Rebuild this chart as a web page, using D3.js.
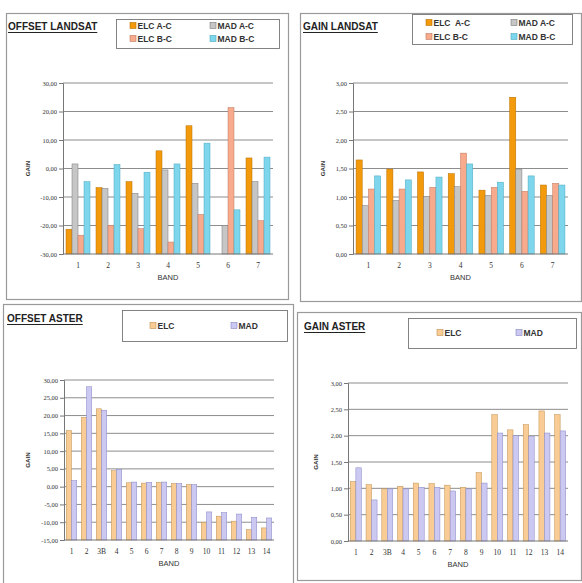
<!DOCTYPE html>
<html><head><meta charset="utf-8">
<script src="https://cdn.jsdelivr.net/npm/d3@7"></script>
<style>body{margin:0;background:#fff}svg{display:block}</style>
</head><body>
<svg id="c" width="582" height="583"></svg>
<script>
// ---------- DATA ----------
const landsatBands = ["1","2","3","4","5","6","7"];
const landsatSeries = ["ELC A-C","MAD A-C","ELC B-C","MAD B-C"];
const landsatLegendLabels = ["ELC A-C","MAD A-C","ELC B-C","MAD B-C"];
const gainLegendLabels = ["ELC  A-C","MAD A-C","ELC B-C","MAD B-C"];

const offsetLandsatElcAC = [-21.3, -6.7, -4.6, 6.2, 15.0, null, 3.7];
const offsetLandsatMadAC = [1.6, -7.0, -8.7, -0.5, -5.2, -20.0, -4.6];
const offsetLandsatElcBC = [-23.4, -19.9, -21.1, -25.8, -16.1, 21.4, -18.3];
const offsetLandsatMadBC = [-4.6, 1.4, -1.3, 1.6, 8.9, -14.5, 4.0];

const gainLandsatElcAC = [1.65, 1.49, 1.44, 1.41, 1.12, 2.75, 1.21];
const gainLandsatMadAC = [0.85, 0.94, 1.01, 1.18, 1.03, 1.49, 1.03];
const gainLandsatElcBC = [1.14, 1.14, 1.17, 1.77, 1.17, 1.10, 1.24];
const gainLandsatMadBC = [1.37, 1.30, 1.35, 1.58, 1.26, 1.37, 1.21];

const asterBands = ["1","2","3B","4","5","6","7","8","9","10","11","12","13","14"];
const asterSeries = ["ELC","MAD"];

const offsetAsterElc = [15.8, 19.5, 21.9, 4.5, 1.1, 1.0, 1.2, 0.9, 0.6, -10.0, -8.3, -9.7, -12.1, -11.6];
const offsetAsterMad = [1.7, 28.1, 21.5, 4.9, 1.3, 1.2, 1.3, 0.9, 0.6, -7.1, -7.3, -7.7, -8.6, -8.8];

const gainAsterElc = [1.13, 1.07, 0.99, 1.04, 1.10, 1.09, 1.06, 1.02, 1.30, 2.40, 2.11, 2.21, 2.47, 2.40];
const gainAsterMad = [1.39, 0.78, 0.99, 0.99, 1.02, 1.02, 0.95, 0.99, 1.10, 2.05, 2.00, 1.98, 2.05, 2.09];

const offsetLandsatTicks = [-30, -20, -10, 0, 10, 20, 30];
const gainLandsatTicks = [0, 0.5, 1, 1.5, 2, 2.5, 3];
const offsetAsterTicks = [-15, -10, -5, 0, 5, 10, 15, 20, 25, 30];
const gainAsterTicks = [0, 0.5, 1, 1.5, 2, 2.5, 3];

// ---------- STYLE ----------
const landsatColors = ["#f39a0c", "#c6c6c6", "#f7ab8c", "#7ed6ec"];
const landsatStroke = ["#b86e00", "#7a7a7a", "#c07860", "#4aa8c0"];
const asterColors = ["#f8cc94", "#cbc8f2"];
const asterStroke = ["#c09050", "#8686c4"];

const svg = d3.select("#c");
const fmt = v => d3.format(".2f")(v).replace(".", ",").replace("\u2212", "-");

function panel(cfg) {
  const g = svg.append("g");
  // frame
  g.append("rect").attr("x", cfg.frame[0] + 0.5).attr("y", cfg.frame[1] + 0.5)
    .attr("width", cfg.frame[2]).attr("height", cfg.frame[3])
    .attr("fill", "#fff").attr("stroke", "#9a9a9a").attr("stroke-width", 1.2);

  // title
  const t = g.append("text").attr("x", cfg.title[0]).attr("y", cfg.title[1])
    .attr("font-family", "Arial, Liberation Sans, sans-serif").attr("font-weight", "bold")
    .attr("font-size", 10).attr("fill", "#222").text(cfg.titleText);
  const tw = t.node().getComputedTextLength();
  g.append("line").attr("x1", cfg.title[0]).attr("x2", cfg.title[0] + tw)
    .attr("y1", cfg.title[1] + 2.5).attr("y2", cfg.title[1] + 2.5)
    .attr("stroke", "#222").attr("stroke-width", 1);

  // legend
  const lb = cfg.legendBox;
  g.append("rect").attr("x", lb[0] + 0.5).attr("y", lb[1] + 0.5).attr("width", lb[2]).attr("height", lb[3])
    .attr("fill", "#fff").attr("stroke", "#777").attr("stroke-width", 0.9);
  cfg.legendItems.forEach((it, i) => {
    const lg = g.append("g").attr("transform", `translate(${it[0]},${it[1]})`);
    lg.append("rect").attr("x", 0).attr("y", -3.5).attr("width", 6).attr("height", 6)
      .attr("fill", cfg.colors[i]).attr("stroke", cfg.strokes[i]).attr("stroke-width", 0.6);
    lg.append("text").attr("x", 7.5).attr("y", 2.8)
      .attr("font-family", "Arial, Liberation Sans, sans-serif").attr("font-weight", "bold")
      .attr("font-size", 8.5).attr("fill", "#333").style("white-space", "pre").text(cfg.legendLabels[i]);
  });

  const [x0, x1, y0, y1] = cfg.plot;
  const x = d3.scaleBand().domain(cfg.categories).range([x0, x1]).paddingInner(cfg.padIn).paddingOuter(cfg.padOut);
  const xs = d3.scaleBand().domain(d3.range(cfg.series.length)).range([0, x.bandwidth()]);
  const y = d3.scaleLinear().domain(cfg.domain).range([y1, y0]);
  const base = y(cfg.domain[0]);

  // gridlines
  g.append("g").selectAll("line").data(cfg.ticks.filter(v => v !== cfg.domain[0])).join("line")
    .attr("x1", x0).attr("x2", x1).attr("y1", d => y(d)).attr("y2", d => y(d))
    .attr("stroke", "#808080").attr("stroke-width", 0.9);

  // bars
  cfg.series.forEach((vals, si) => {
    g.append("g").selectAll("rect").data(vals.map((v, i) => ({ v, c: cfg.categories[i] })).filter(d => d.v !== null))
      .join("rect")
      .attr("x", d => x(d.c) + xs(si))
      .attr("width", xs.bandwidth())
      .attr("y", d => Math.min(y(d.v), base))
      .attr("height", d => Math.abs(base - y(d.v)))
      .attr("fill", cfg.colors[si]).attr("stroke", cfg.strokes[si]).attr("stroke-width", 0.5);
  });

  // y axis
  const ya = d3.axisLeft(y).tickValues(cfg.ticks).tickFormat(fmt).tickSize(4).tickPadding(2);
  const yg = g.append("g").attr("transform", `translate(${x0},0)`).call(ya);
  yg.select(".domain").attr("stroke", "#777");
  yg.selectAll(".tick line").attr("stroke", "#777");
  yg.selectAll("text").attr("font-family", "Liberation Serif, Times New Roman, serif")
    .attr("font-size", 6.5).attr("fill", "#333");

  // x axis
  const xa = d3.axisBottom(x).tickSize(0).tickPadding(9);
  const xg = g.append("g").attr("transform", `translate(0,${y1})`).call(xa);
  xg.select(".domain").attr("stroke", "#777").attr("d", `M${x0},0H${x1}`);
  xg.selectAll("text").attr("font-family", "Liberation Serif, Times New Roman, serif")
    .attr("font-size", 7.5).attr("fill", "#333");

  // axis titles
  g.append("text").attr("transform", `translate(${cfg.yTitleX},${(y0 + y1) / 2}) rotate(-90)`)
    .attr("text-anchor", "middle").attr("font-family", "Arial, Liberation Sans, sans-serif")
    .attr("font-weight", "bold").attr("font-size", 6.2).attr("fill", "#333").text("GAIN");
  g.append("text").attr("x", (x0 + x1) / 2).attr("y", cfg.xTitleY).attr("text-anchor", "middle")
    .attr("font-family", "Arial, Liberation Sans, sans-serif").attr("font-size", 7.5)
    .attr("fill", "#333").text("BAND");
}

panel({
  frame: [6, 13, 282, 286], titleText: "OFFSET LANDSAT", title: [8, 30],
  legendBox: [116, 19, 163, 29],
  legendItems: [[130, 26], [210, 26], [130, 39], [210, 39]],
  legendLabels: landsatLegendLabels,
  plot: [63, 273, 83, 254], categories: landsatBands,
  series: [offsetLandsatElcAC, offsetLandsatMadAC, offsetLandsatElcBC, offsetLandsatMadBC],
  colors: landsatColors, strokes: landsatStroke,
  domain: [-30, 30], ticks: offsetLandsatTicks, padIn: 0.2, padOut: 0.1,
  yTitleX: 30, xTitleY: 280
});

panel({
  frame: [300, 13, 281, 288], titleText: "GAIN LANDSAT", title: [303, 30],
  legendBox: [412, 14, 160, 30],
  legendItems: [[426, 23], [511, 23], [426, 37], [511, 37]],
  legendLabels: gainLegendLabels,
  plot: [353, 568, 83, 254], categories: landsatBands,
  series: [gainLandsatElcAC, gainLandsatMadAC, gainLandsatElcBC, gainLandsatMadBC],
  colors: landsatColors, strokes: landsatStroke,
  domain: [0, 3], ticks: gainLandsatTicks, padIn: 0.2, padOut: 0.1,
  yTitleX: 325, xTitleY: 280
});

panel({
  frame: [3, 304, 290, 290], titleText: "OFFSET ASTER", title: [7, 322],
  legendBox: [122, 310, 165, 31],
  legendItems: [[150, 326], [231, 326]],
  legendLabels: ["ELC", "MAD"],
  plot: [64, 274, 380, 540], categories: asterBands,
  series: [offsetAsterElc, offsetAsterMad],
  colors: asterColors, strokes: asterStroke,
  domain: [-15, 30], ticks: offsetAsterTicks, padIn: 0.3, padOut: 0.15,
  yTitleX: 30, xTitleY: 566
});

panel({
  frame: [297, 312, 284, 268], titleText: "GAIN ASTER", title: [304, 330],
  legendBox: [408, 318, 168, 30],
  legendItems: [[437, 333], [516, 333]],
  legendLabels: ["ELC", "MAD"],
  plot: [348, 568, 383, 541], categories: asterBands,
  series: [gainAsterElc, gainAsterMad],
  colors: asterColors, strokes: asterStroke,
  domain: [0, 3], ticks: gainAsterTicks, padIn: 0.3, padOut: 0.15,
  yTitleX: 318, xTitleY: 567
});
</script>
</body></html>
